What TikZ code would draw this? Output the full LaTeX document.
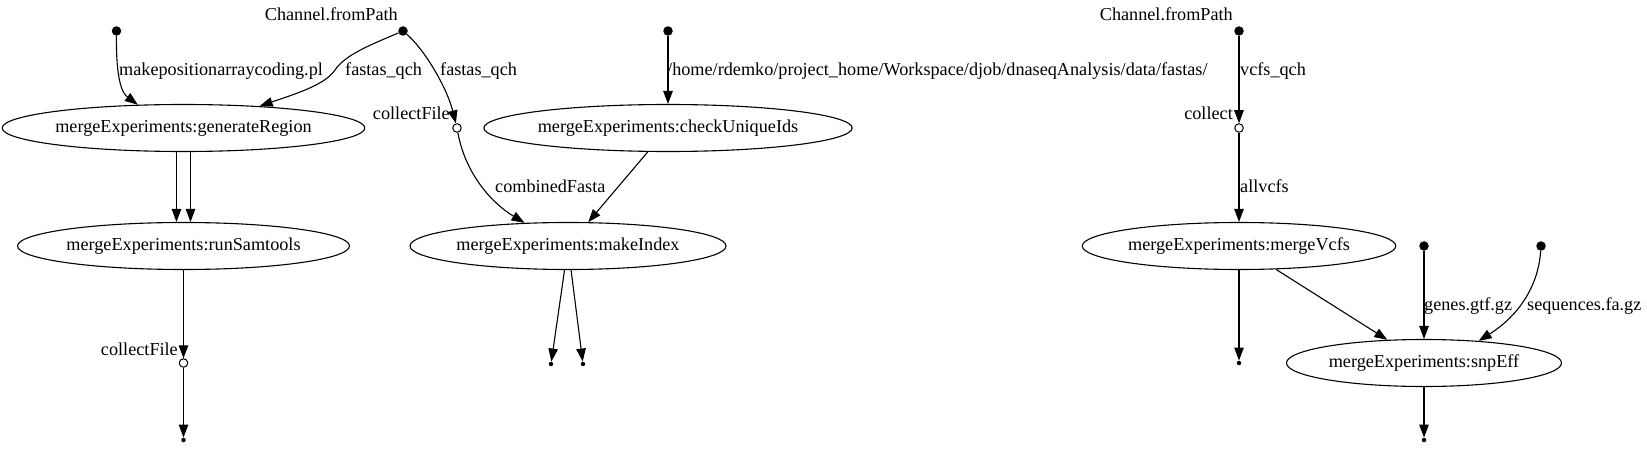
\documentclass[tikz,border=0pt]{standalone}
\usepackage{fontspec}
\setmainfont{Liberation Serif}
\usepackage{tikz}
\usetikzlibrary{arrows.meta,positioning,shapes.geometric}
\newcommand{\TaskNode}[4]{%
  \node[draw, ellipse, line width=1.1pt, inner sep=0pt, minimum width=#3pt, minimum height=47pt] (#1) at (#2) {#4};
}
\tikzset{
  src/.style={circle, fill=black, inner sep=0pt, minimum size=9.5pt},
  op/.style={circle, draw, fill=white, line width=1pt, inner sep=0pt, minimum size=8.5pt},
  sink/.style={circle, fill=black, inner sep=0pt, minimum size=4.5pt},
  lbl/.style={inner sep=0pt},
  flow/.style={-{Triangle[length=13pt,width=9.5pt]}, line width=1.1pt},
}

\begin{document}
\begin{tikzpicture}[x=1pt, y=-1pt, font=\fontsize{18.2pt}{22pt}\selectfont]
  \useasboundingbox (0,0) rectangle (1647,449);
  % processes
  \TaskNode{gen}{183.5,128}{359}{mergeExperiments:generateRegion}
  \TaskNode{chk}{668,128}{363}{mergeExperiments:checkUniqueIds}
  \TaskNode{sam}{183.5,246}{332}{mergeExperiments:runSamtools}
  \TaskNode{idx}{568,246}{316}{mergeExperiments:makeIndex}
  \TaskNode{vcf}{1239,246}{313}{mergeExperiments:mergeVcfs}
  \TaskNode{eff}{1424,363}{275}{mergeExperiments:snpEff}
  % sources, operators, sinks
  \node[src] (s1) at (116.5,31) {};
  \node[src] (s2) at (403,31) {};
  \node[src] (s3) at (668,31) {};
  \node[src] (s4) at (1239,31) {};
  \node[src] (s5) at (1424,246) {};
  \node[src] (s6) at (1541,246) {};
  \node[op] (op1) at (457,128) {};
  \node[op] (op2) at (1239,128) {};
  \node[op] (op3) at (183.5,363) {};
  \node[sink] (k1) at (183.5,440) {};
  \node[sink] (k2) at (551,364) {};
  \node[sink] (k3) at (583,364) {};
  \node[sink] (k4) at (1239,363) {};
  \node[sink] (k5) at (1424,440) {};
  % labels
  \node[lbl, anchor=base east] (ch1) at (398,20.7) {Channel.fromPath};
  \node[lbl, anchor=base east] (ch2) at (1233,20.7) {Channel.fromPath};
  \node[lbl, anchor=base west] (l1) at (119,75.5) {makepositionarraycoding.pl};
  \node[lbl, anchor=base west] (l2) at (345,75.5) {fastas\_qch};
  \node[lbl, anchor=base west] (l3) at (440,75.5) {fastas\_qch};
  \node[lbl, anchor=base west] (l4) at (667,75.5) {/home/rdemko/project\_home/Workspace/djob/dnaseqAnalysis/data/fastas/};
  \node[lbl, anchor=base west] (l5) at (1240,75.5) {vcfs\_qch};
  \node[lbl, anchor=base east] (l6) at (450,120) {collectFile};
  \node[lbl, anchor=base east] (l7) at (1233,120) {collect};
  \node[lbl, anchor=base west] (l8) at (495,192.5) {combinedFasta};
  \node[lbl, anchor=base west] (l9) at (1240,192.5) {allvcfs};
  \node[lbl, anchor=base east] (l10) at (178,355) {collectFile};
  \node[lbl, anchor=base west] (l11) at (1424,310.5) {genes.gtf.gz};
  \node[lbl, anchor=base west] (l12) at (1527,310.5) {sequences.fa.gz};
  % edges
  \draw[flow] (s1) .. controls (116,80) and (122,93) .. (gen.153);
  \draw[flow] (s2) .. controls (370,45) and (345,55) .. (335,70) .. controls (325,85) and (295,94) .. (gen.16);
  \draw[flow] (s2) .. controls (425,50) and (447,88) .. (op1);
  \draw[flow] (s3) -- (chk);
  \draw[flow] (s4) -- (op2);
  \draw[flow] ([xshift=-7pt]gen.south) -- ([xshift=-7pt]sam.north);
  \draw[flow] ([xshift=7pt]gen.south) -- ([xshift=7pt]sam.north);
  \draw[flow] (op1) .. controls (465,172) and (490,202) .. (idx.152);
  \draw[flow] (chk) -- (idx);
  \draw[flow] (op2) -- (vcf);
  \draw[flow] (sam) -- (op3);
  \draw[flow] (op3) -- (k1);
  \draw[flow] (idx) -- (k2);
  \draw[flow] (idx) -- (k3);
  \draw[flow] (vcf) -- (k4);
  \draw[flow] (vcf) -- (eff);
  \draw[flow] (s5) -- (eff);
  \draw[flow] (s6) .. controls (1538,290) and (1515,318) .. (eff.22);
  \draw[flow] (eff) -- (k5);
\end{tikzpicture}
\end{document}
